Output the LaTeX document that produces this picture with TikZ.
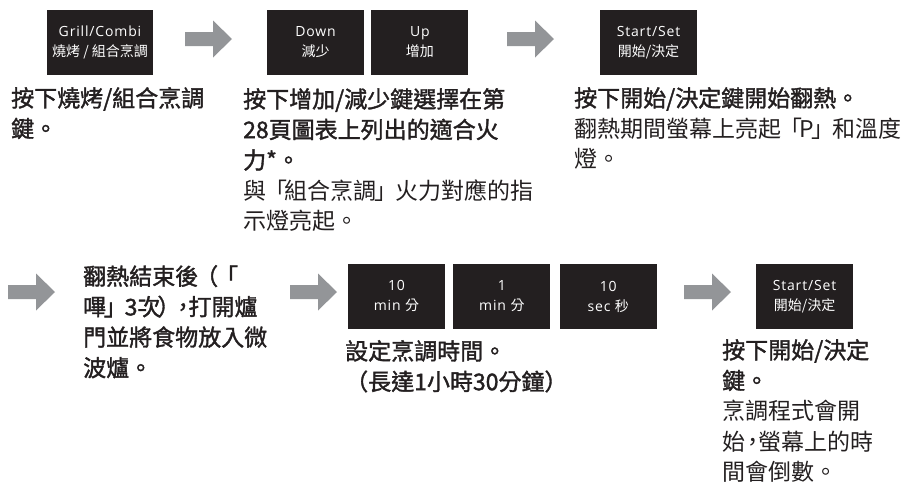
\documentclass[tikz,border=0pt]{standalone}
\usepackage{fontspec}
\setmainfont{Open Sans}[LetterSpace=6]
\newfontfamily\cjk{Noto Sans CJK TC}[BoldFont={Noto Sans CJK TC}, BoldFeatures={FakeBold=1.6}]
\usetikzlibrary{positioning}

\definecolor{keyblack}{HTML}{231F20}
\definecolor{arrowgray}{HTML}{939598}
\definecolor{inkdark}{HTML}{231F20}

\newcommand{\keyfont}{\fontsize{14}{20}\selectfont}
\newcommand{\bodyfont}{\cjk\fontsize{23}{30.5}\selectfont}
% tight corner brackets, full-width punctuation
\newcommand{\lbk}{\kern-2pt「\kern-2.5pt}
\newcommand{\rbk}{\kern-2.5pt」\kern-2pt}
\newcommand{\lpar}{\kern-3pt^^^^ff08\kern-3pt}
\newcommand{\rpar}{\kern-3pt^^^^ff09\kern-5pt}
\newcommand{\fcomma}{\kern-4pt^^^^ff0c\kern-6pt}

% gray block arrow, tail centre at #1
\newcommand{\blockarrow}[1]{%
  \fill[arrowgray] (#1) ++(0,-7) -- ++(28,0) -- ++(0,-11.5) -- ++(19,18.5)
    -- ++(-19,18.5) -- ++(0,-11.5) -- ++(-28,0) -- cycle;}

\tikzset{
  keybox/.style={fill=keyblack, text=white, minimum width=97pt, minimum height=65pt,
    inner sep=0pt, align=center, font=\keyfont},
  bodytext/.style={anchor=north west, inner sep=0pt, align=left, text=inkdark, font=\bodyfont}
}

\begin{document}
\begin{tikzpicture}[x=1pt, y=-1pt]
  \useasboundingbox (0,0) rectangle (906,491);

  % Row 1: keys
  \node[keybox, minimum width=106pt] (grill) at (100,42.5) {Grill/Combi\\{\cjk 燒烤 / 組合烹調}};
  \node[keybox] (down) at (315.5,42.5) {Down\\{\cjk 減少}};
  \node[keybox, right=7pt of down] (up) {Up\\{\cjk 增加}};
  \node[keybox] (start) at (648.5,42.5) {Start/Set\\{\cjk 開始/決定}};

  % Row 1: arrows
  \coordinate (arrA) at (185,39);
  \coordinate (arrB) at (507,39);
  \blockarrow{arrA}
  \blockarrow{arrB}

  % Row 1: texts
  \node[bodytext] (txtgrill) at (11,87) {\textbf{按下燒烤/組合烹調}\\\textbf{鍵。}};
  \node[bodytext] (txtpower) at (243,88) {\textbf{按下增加/減少鍵選擇在第}\\\textbf{28頁圖表上列出的適合火}\\\textbf{力*。}\\與\lbk 組合烹調\rbk 火力對應的指\\示燈亮起。};
  \node[bodytext] (txtturn) at (574,87) {\textbf{按下開始/決定鍵開始翻熱。}\\翻熱期間螢幕上亮起\lbk P\rbk 和溫度\\燈。};

  % Row 2: arrows
  \coordinate (arrC) at (8,292);
  \coordinate (arrD) at (290,292);
  \coordinate (arrE) at (684,292);
  \blockarrow{arrC}
  \blockarrow{arrD}
  \blockarrow{arrE}

  % Row 2: keys
  \node[keybox] (tenmin) at (396.5,296.5) {10\\min {\cjk 分}};
  \node[keybox, right=8pt of tenmin] (onemin) {1\\min {\cjk 分}};
  \node[keybox, right=9pt of onemin] (tensec) {10\\sec {\cjk 秒}};
  \node[keybox] (start2) at (804.5,296.5) {Start/Set\\{\cjk 開始/決定}};

  % Row 2: texts
  \node[bodytext] (txtfood) at (83,265) {\textbf{翻熱結束後\lpar 「}\\\textbf{嗶\rbk 3次\rpar\fcomma 打開爐}\\\textbf{門並將食物放入微}\\\textbf{波爐。}};
  \node[bodytext] (txttime) at (345,340) {\textbf{設定烹調時間。}\\\textbf{^^^^ff08長達1小時30分鐘^^^^ff09}};
  \node[bodytext] (txtcook) at (722,339) {\textbf{按下開始/決定}\\\textbf{鍵。}\\烹調程式會開\\始\fcomma 螢幕上的時\\間會倒數。};
\end{tikzpicture}
\end{document}
